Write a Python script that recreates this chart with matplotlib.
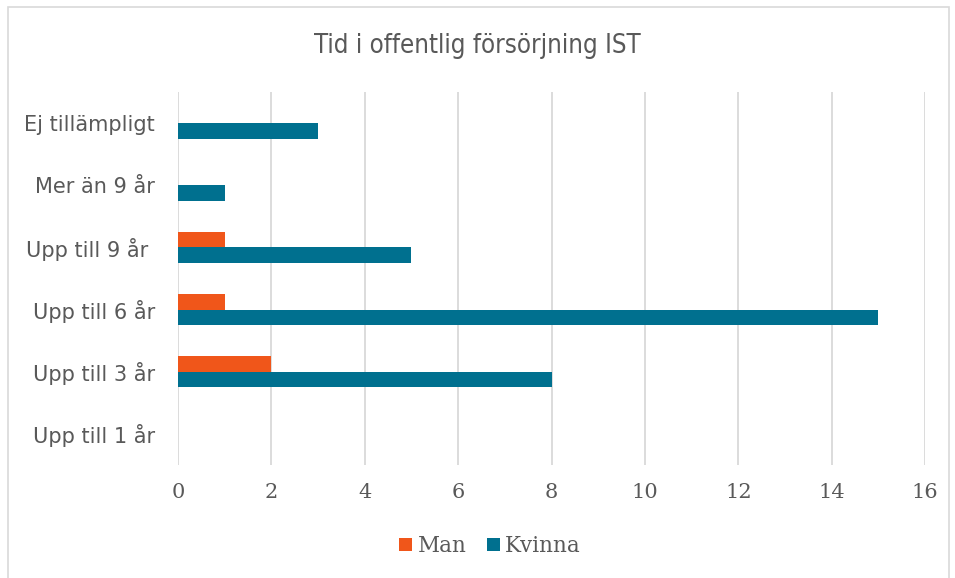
import numpy as np
import matplotlib.pyplot as plt
from matplotlib.patches import Rectangle

# ----------------------------
# Data
# ----------------------------
categories = ['Upp till 1 år', 'Upp till 3 år', 'Upp till 6 år',
              'Upp till 9 år ', 'Mer än 9 år', 'Ej tillämpligt']
man = [0, 2, 1, 1, 0, 0]
kvinna = [0, 8, 15, 5, 1, 3]
xticks = [0, 2, 4, 6, 8, 10, 12, 14, 16]

color_man = '#F0561A'
color_kvinna = '#00708F'
text_color = '#595959'

# ----------------------------
# Figure
# ----------------------------
fig = plt.figure(figsize=(9.55, 5.78), dpi=100)
ax = fig.add_axes([178 / 955, 1 - 465 / 578, (925 - 178) / 955, (465 - 92) / 578])

y = np.arange(len(categories))
h = 0.25
ax.barh(y + h / 2, man, height=h, color=color_man, label='Man', zorder=3)
ax.barh(y - h / 2, kvinna, height=h, color=color_kvinna, label='Kvinna', zorder=3)

ax.set_xlim(0, 16)
ax.set_ylim(-0.5, len(categories) - 0.5)
ax.set_xticks(xticks)
ax.set_xticklabels([str(t) for t in xticks], family='DejaVu Serif',
                   fontsize=15, color=text_color)
ax.set_yticks(y)
ax.set_yticklabels(categories, family='DejaVu Sans', fontsize=15,
                   color=text_color)
ax.tick_params(axis='both', length=0)
ax.tick_params(axis='x', pad=13)
ax.tick_params(axis='y', pad=16.5)

ax.grid(axis='x', color='#D9D9D9', linewidth=1.3, zorder=0)
for s in ax.spines.values():
    s.set_visible(False)

fig.text(0.5, 1 - 53 / 578, 'Tid i offentlig försörjning IST', ha='center',
         va='baseline', fontsize=18.5, color=text_color, family='DejaVu Sans',
         fontstretch='condensed')

leg = fig.legend(loc='center', bbox_to_anchor=(490 / 955, 1 - 546 / 578),
                 ncol=2, frameon=False, handlelength=0.6, handleheight=0.6,
                 handletextpad=0.25, columnspacing=0.95,
                 prop={'family': 'DejaVu Serif', 'size': 15.5})
for t in leg.get_texts():
    t.set_color(text_color)

# outer chart border
fig.patches.append(Rectangle((8 / 955, -0.01), (949 - 8) / 955, 1 - 7 / 578 + 0.01,
                             transform=fig.transFigure, fill=False,
                             edgecolor='#D9D9D9', linewidth=1.2))

fig.savefig('out.png', dpi=100)
